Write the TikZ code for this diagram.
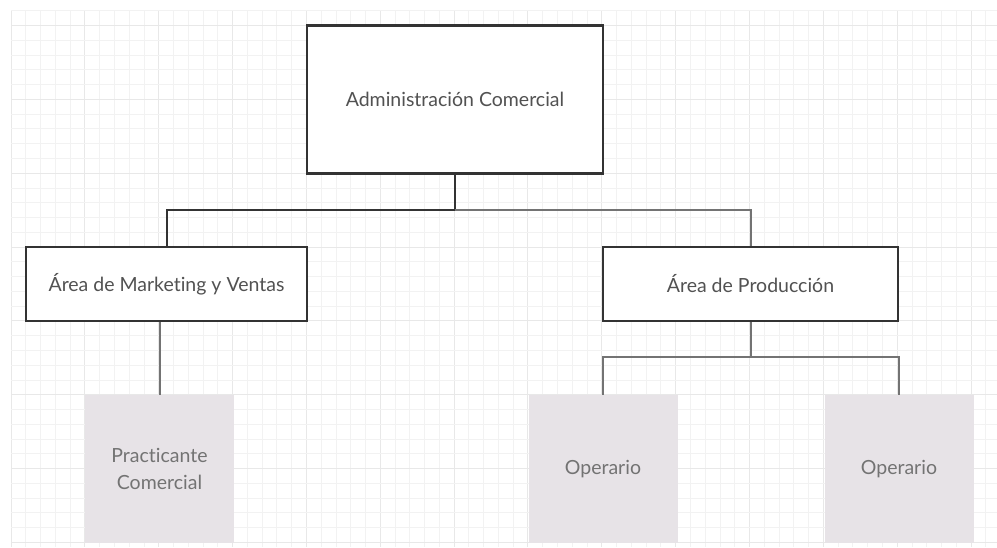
\documentclass[tikz,border=0pt]{standalone}
\usepackage{fontspec}
\setmainfont{Lato}[Ligatures=NoCommon]
\begin{document}
\begin{tikzpicture}[x=1pt,y=-1pt,
  gridminor/.style={draw=black!5,line width=0.8pt},
  gridmajor/.style={draw=black!9,line width=1pt},
  unitbox/.style={draw=black!80,line width=2.2pt,fill=white,text=black!68,
    font=\fontsize{19.5}{23}\selectfont,inner sep=0pt},
  staffbox/.style={fill=staff,text=black!55,align=center,
    font=\fontsize{19.5}{27}\selectfont,inner sep=0pt,
    minimum width=149pt,minimum height=148pt},
  darkconn/.style={draw=black!80,line width=2pt},
  lightconn/.style={draw=black!55,line width=2pt}]
\definecolor{staff}{RGB}{231,227,231}
% canvas
\useasboundingbox (0,0) rectangle (997,547);
\fill[white] (0,0) rectangle (997,547);
% background grid
\foreach \i in {0,...,66}{
  \pgfmathtruncatemacro{\m}{mod(\i,5)}
  \ifnum\m=0
    \draw[gridmajor] (11+\i*14.77,10.7) -- (11+\i*14.77,547);
  \else
    \draw[gridminor] (11+\i*14.77,10.7) -- (11+\i*14.77,547);
  \fi
}
\foreach \j in {0,...,36}{
  \pgfmathtruncatemacro{\m}{mod(\j,5)}
  \ifnum\m=1
    \draw[gridmajor] (11,10.7+\j*14.77) -- (997,10.7+\j*14.77);
  \else
    \draw[gridminor] (11,10.7+\j*14.77) -- (997,10.7+\j*14.77);
  \fi
}
% units
\node[unitbox,minimum width=296pt,minimum height=148pt] (admin) at (455,99.5) {Administración Comercial};
\node[unitbox,minimum width=281pt,minimum height=74pt] (mkt) at (166.5,284) {Área de Marketing y Ventas};
\node[unitbox,minimum width=295pt,minimum height=74pt] (prod) at (750.5,284) {Área de Producción};
% staff
\node[staffbox] (prac) at (159.5,469) {Practicante\\Comercial};
\node[staffbox] (op1) at (603,469) {Operario};
\node[staffbox] (op2) at (899,469) {Operario};
% connectors
\coordinate (j1) at (455,210);
\coordinate (j2) at (750.5,357);
\draw[darkconn] (admin.south) -- (j1) -| (mkt.north);
\draw[lightconn] (j1) -| (prod.north);
\draw[lightconn] (mkt.south -| prac.north) -- (prac.north);
\draw[lightconn] (prod.south) -- (j2) -| (op1.north);
\draw[lightconn] (j2) -| (op2.north);
\end{tikzpicture}
\end{document}
